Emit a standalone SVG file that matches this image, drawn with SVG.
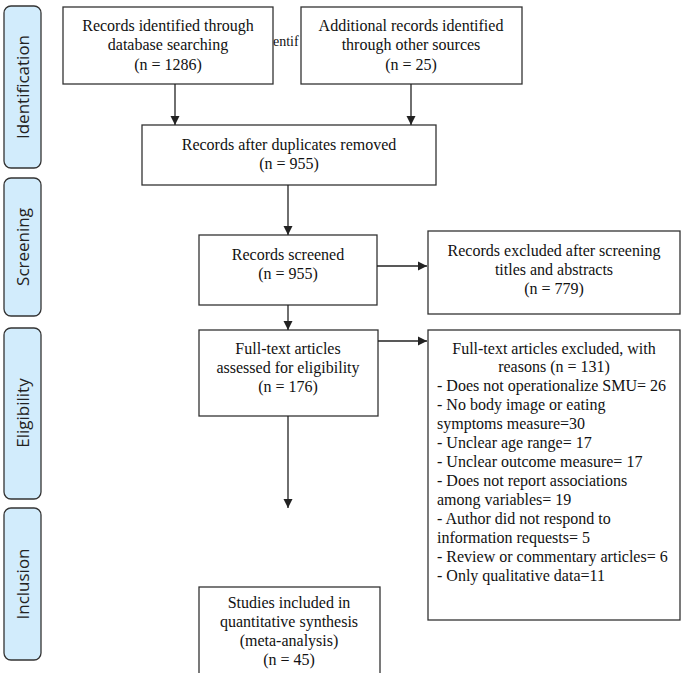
<svg xmlns="http://www.w3.org/2000/svg" width="685" height="673" viewBox="0 0 685 673">
<style>
.b{fill:#fff;stroke:#333;stroke-width:1.3}
.s{fill:#d2ecfc;stroke:#333;stroke-width:1.3}
.t{font-family:"Liberation Serif","Times New Roman","DejaVu Serif",serif;font-size:16px;fill:#111;text-anchor:middle}
.l{font-family:"Liberation Serif","Times New Roman","DejaVu Serif",serif;font-size:16px;fill:#111}
.v{font-family:"Open Sans",sans-serif;font-size:17px;fill:#222;text-anchor:middle}
.c{stroke:#222;stroke-width:1.3;fill:none;marker-end:url(#a)}
</style>
<defs><marker id="a" viewBox="0 0 10 10" refX="10" refY="5" markerWidth="7" markerHeight="7" orient="auto"><path d="M0,0L10,5L0,10z" fill="#222"/></marker></defs>
<rect width="685" height="673" fill="#fff"/>
<g id="side-identification"><rect class="s" x="4" y="6" width="37" height="162" rx="7"/><text class="v" transform="translate(29,87) rotate(-90)">Identification</text></g>
<g id="side-screening"><rect class="s" x="4" y="178" width="37" height="138" rx="7"/><text class="v" transform="translate(29,247) rotate(-90)">Screening</text></g>
<g id="side-eligibility"><rect class="s" x="4" y="328" width="37" height="171" rx="7"/><text class="v" transform="translate(29,413) rotate(-90)">Eligibility</text></g>
<g id="side-inclusion"><rect class="s" x="4" y="508" width="37" height="152" rx="7"/><text class="v" transform="translate(29,584) rotate(-90)">Inclusion</text></g>
<text class="l" x="273" y="46" style="font-size:14px">entif</text>
<g id="n1"><rect class="b" x="63" y="7" width="210" height="77"/><text class="t" x="168" y="31">Records identified through</text><text class="t" x="168" y="50">database searching</text><text class="t" x="168" y="70">(n = 1286)</text></g>
<g id="n2"><rect class="b" x="301" y="7" width="221" height="77"/><text class="t" x="411" y="31">Additional records identified</text><text class="t" x="411" y="50">through other sources</text><text class="t" x="411" y="70">(n = 25)</text></g>
<g id="n3"><rect class="b" x="142" y="125" width="294" height="60"/><text class="t" x="289" y="150">Records after duplicates removed</text><text class="t" x="289" y="169">(n = 955)</text></g>
<g id="n4"><rect class="b" x="199" y="235" width="178" height="70"/><text class="t" x="288" y="260">Records screened</text><text class="t" x="288" y="279">(n = 955)</text></g>
<g id="n5"><rect class="b" x="428" y="231" width="252" height="83"/><text class="t" x="554" y="256">Records excluded after screening</text><text class="t" x="554" y="275">titles and abstracts</text><text class="t" x="554" y="294">(n = 779)</text></g>
<g id="n6"><rect class="b" x="199" y="330" width="179" height="86"/><text class="t" x="288" y="354">Full-text articles</text><text class="t" x="288" y="373">assessed for eligibility</text><text class="t" x="288" y="392">(n = 176)</text></g>
<g id="n7"><rect class="b" x="428" y="330" width="252" height="290"/>
<text class="t" x="554" y="354">Full-text articles excluded, with</text>
<text class="t" x="554" y="372">reasons (n = 131)</text>
<text class="l" x="437" y="391">- Does not operationalize SMU= 26</text>
<text class="l" x="437" y="410">- No body image or eating</text>
<text class="l" x="437" y="429">symptoms measure=30</text>
<text class="l" x="437" y="448">- Unclear age range= 17</text>
<text class="l" x="437" y="467">- Unclear outcome measure= 17</text>
<text class="l" x="437" y="486">- Does not report associations</text>
<text class="l" x="437" y="505">among variables= 19</text>
<text class="l" x="437" y="524">- Author did not respond to</text>
<text class="l" x="437" y="543">information requests= 5</text>
<text class="l" x="437" y="562">- Review or commentary articles= 6</text>
<text class="l" x="437" y="581">- Only qualitative data=11</text></g>
<g id="n8"><rect class="b" x="199" y="587" width="181" height="100"/><text class="t" x="289" y="608">Studies included in</text><text class="t" x="289" y="627">quantitative synthesis</text><text class="t" x="289" y="646">(meta-analysis)</text><text class="t" x="289" y="665">(n = 45)</text></g>
<g id="connectors">
<path class="c" d="M175,84V125"/>
<path class="c" d="M411,84V125"/>
<path class="c" d="M288,185V235"/>
<path class="c" d="M377,266H427"/>
<path class="c" d="M288,305V330"/>
<path class="c" d="M378,341H427"/>
<path class="c" d="M288,416V508"/>
</g>
</svg>
